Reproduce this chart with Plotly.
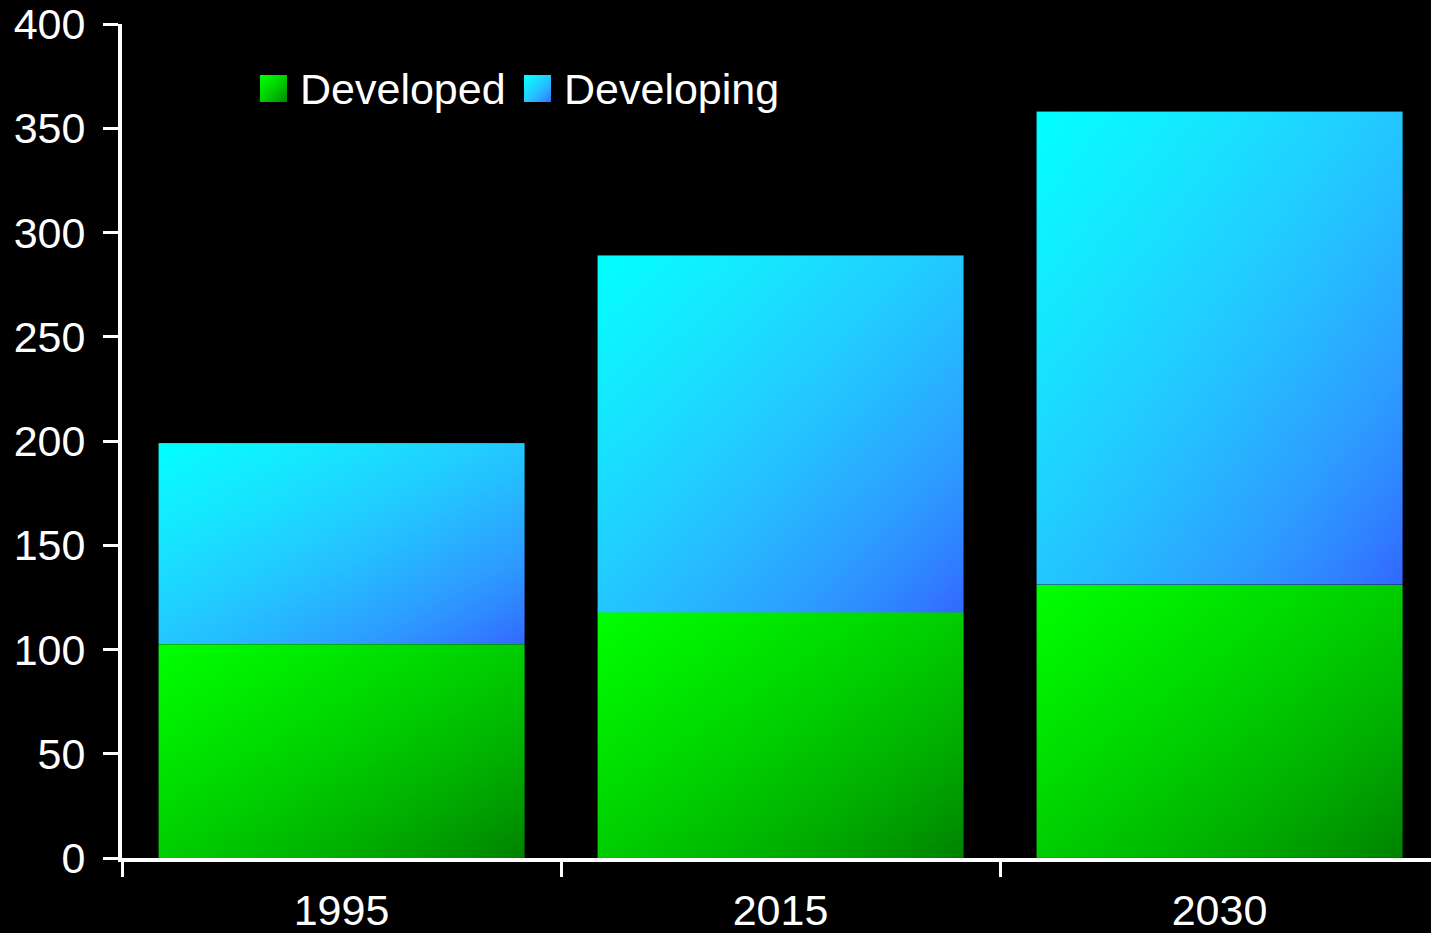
import numpy as np
import plotly.graph_objects as go

# ---- data -------------------------------------------------------------
years = ["1995", "2015", "2030"]
developed = [102.5, 118, 131]
developing = [96.5, 171, 227]

series_names = ["Developed", "Developing"]
series_values = [developed, developing]
# (top-left colour, bottom-right colour) of each series' diagonal gradient
series_colors = [("#00FF00", "#008000"), ("#00FFFF", "#3366FF")]

y_ticks = [0, 50, 100, 150, 200, 250, 300, 350, 400]

# ---- geometry / style -------------------------------------------------
W, H = 1431, 933
M_L, M_R, M_T, M_B = 122, 0, 24, 75
PX_PER_CAT = 439
BAR_WIDTH = 5 / 6          # 20 % gap between bars
N = 48                     # gradient sampling per side
FONT = "Liberation Sans, Arial, sans-serif"
FONT_SIZE = 43

plot_w = W - M_L - M_R
plot_h = H - M_T - M_B


def _to_linear(c):
    c = c / 255.0
    return np.where(c <= 0.04045, c / 12.92, ((c + 0.055) / 1.055) ** 2.4)


def _to_srgb(c):
    c = np.where(c <= 0.0031308, c * 12.92, 1.055 * c ** (1 / 2.4) - 0.055)
    return np.clip(np.round(c * 255), 0, 255).astype(int)


def gradient_scale(c0, c1, steps=17):
    """Colourscale blending c0 -> c1 in linear light."""
    a = _to_linear(np.array([int(c0[i:i + 2], 16) for i in (1, 3, 5)], float))
    b = _to_linear(np.array([int(c1[i:i + 2], 16) for i in (1, 3, 5)], float))
    scale = []
    for t in np.linspace(0, 1, steps):
        r, g, bl = _to_srgb(a + (b - a) * t)
        scale.append([float(t), f"rgb({r},{g},{bl})"])
    return scale


def diagonal_gradient(n=N):
    """z in [0, 1]: 0 at the top-left corner, 1 at the bottom-right corner."""
    u = (np.arange(n) + 0.5) / n
    # rows go bottom -> top, so the distance from the top edge is 1 - u
    return (u[np.newaxis, :] + (1 - u)[:, np.newaxis]) / 2


def centers(a, b, n=N):
    return a + (b - a) * (np.arange(n) + 0.5) / n


fig = go.Figure()

# stacked bars, each segment painted with its own diagonal gradient
base = [0] * len(years)
for name, values, (c0, c1) in zip(series_names, series_values, series_colors):
    scale = gradient_scale(c0, c1)
    for i, (year, v) in enumerate(zip(years, values)):
        x0, x1 = i - BAR_WIDTH / 2, i + BAR_WIDTH / 2
        y0, y1 = base[i], base[i] + v
        fig.add_trace(go.Heatmap(
            x=centers(x0, x1), y=centers(y0, y1), z=diagonal_gradient(),
            zmin=0, zmax=1, zsmooth="best",
            colorscale=scale, showscale=False,
            name=name, legendgroup=name,
            hovertemplate=f"{name} {year}: {v}<extra></extra>",
        ))
        base[i] += v

# legend row: gradient swatches + labels (x2/y2 measured in pixels from
# the plot's bottom-left corner)
legend_items = [
    # name, swatch left, label left
    ("Developed", 138, 176),
    ("Developing", 402, 440),
]
SW = 27
SW_BOTTOM = 756
annotations = []
for (name, sx, tx), (c0, c1) in zip(legend_items, series_colors):
    fig.add_trace(go.Heatmap(
        x=centers(sx, sx + SW, 16), y=centers(SW_BOTTOM, SW_BOTTOM + SW, 16),
        z=diagonal_gradient(16), zmin=0, zmax=1, zsmooth="best",
        colorscale=gradient_scale(c0, c1), showscale=False,
        xaxis="x2", yaxis="y2", hoverinfo="skip", name=name,
    ))
    annotations.append(dict(
        x=tx, y=SW_BOTTOM + SW / 2, xref="x2", yref="y2",
        text=name, showarrow=False, xanchor="left", yanchor="middle",
        font=dict(family=FONT, size=FONT_SIZE, color="white"),
    ))

fig.update_layout(
    width=W, height=H,
    margin=dict(l=M_L, r=M_R, t=M_T, b=M_B, pad=0, autoexpand=False),
    paper_bgcolor="black", plot_bgcolor="black",
    font=dict(family=FONT, size=FONT_SIZE, color="white"),
    showlegend=False,
    annotations=annotations,
    xaxis=dict(
        range=[-0.5, -0.5 + plot_w / PX_PER_CAT], automargin=False,
        tickmode="array", tickvals=list(range(len(years))), ticktext=years,
        ticks="", showline=True, linecolor="white", linewidth=4,
        showgrid=False, zeroline=False, ticklabelstandoff=11,
        tickfont=dict(family=FONT, size=FONT_SIZE, color="white"),
        minor=dict(
            tickmode="array", tickvals=[-0.5, 0.5, 1.5, 2.5],
            ticks="outside", ticklen=15, tickwidth=3, tickcolor="white",
            showgrid=False,
        ),
    ),
    yaxis=dict(
        range=[0, 400], tickmode="array", tickvals=y_ticks, automargin=False,
        ticks="outside", ticklen=15, tickwidth=3, tickcolor="white",
        showline=True, linecolor="white", linewidth=4,
        showgrid=False, zeroline=False, ticklabelstandoff=9,
        tickfont=dict(family=FONT, size=FONT_SIZE, color="white"),
    ),
    xaxis2=dict(range=[0, plot_w], overlaying="x", anchor="y2",
                visible=False, fixedrange=True, automargin=False),
    yaxis2=dict(range=[0, plot_h], overlaying="y", anchor="x2",
                visible=False, fixedrange=True, automargin=False),
)

fig.write_html("out.html")
